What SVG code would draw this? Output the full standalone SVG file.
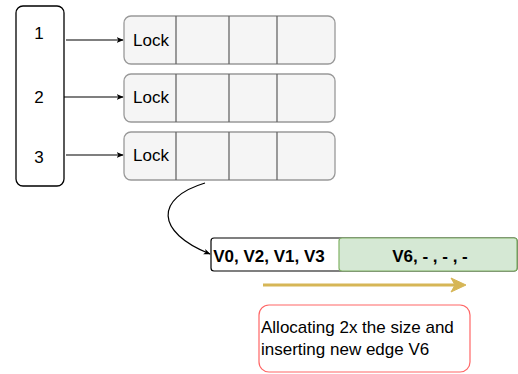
<svg xmlns="http://www.w3.org/2000/svg" width="518" height="374" viewBox="0 0 518 374">
<style>
text{font-family:"Liberation Sans",Arial,sans-serif;font-size:17px;fill:#000}
.row{fill:#f5f5f5;stroke:#999;stroke-width:1.3}
.div{stroke:#666;stroke-width:1.3}
.c{fill:none;stroke:#000;stroke-width:1.2}
.b{font-weight:bold}
</style>
<defs>
<marker id="ah" viewBox="0 0 10 10" refX="9" refY="5" markerWidth="7" markerHeight="7" orient="auto" markerUnits="userSpaceOnUse">
<path d="M0,1 L10,5 L0,9 L2.5,5 Z" fill="#000"/>
</marker>
</defs>
<g id="table">
<rect x="16" y="6" width="48" height="180" rx="7" fill="#fff" stroke="#000" stroke-width="1.3"/>
<text x="39" y="39" text-anchor="middle">1</text>
<text x="39" y="103" text-anchor="middle">2</text>
<text x="39" y="163" text-anchor="middle">3</text>
</g>
<g id="row1">
<rect class="row" x="124" y="16" width="211" height="48" rx="7"/>
<line class="div" x1="176" y1="16" x2="176" y2="64"/><line class="div" x1="229" y1="16" x2="229" y2="64"/><line class="div" x1="277" y1="16" x2="277" y2="64"/>
<text x="133" y="46">Lock</text>
</g>
<g id="row2">
<rect class="row" x="124" y="74" width="211" height="48" rx="7"/>
<line class="div" x1="176" y1="74" x2="176" y2="122"/><line class="div" x1="229" y1="74" x2="229" y2="122"/><line class="div" x1="277" y1="74" x2="277" y2="122"/>
<text x="133" y="103">Lock</text>
</g>
<g id="row3">
<rect class="row" x="124" y="132" width="211" height="48" rx="7"/>
<line class="div" x1="176" y1="132" x2="176" y2="180"/><line class="div" x1="229" y1="132" x2="229" y2="180"/><line class="div" x1="277" y1="132" x2="277" y2="180"/>
<text x="133" y="161">Lock</text>
</g>
<g id="bar">
<rect x="211" y="238" width="306" height="33" rx="3" fill="#fff" stroke="#000" stroke-width="1.2"/>
<rect x="339" y="238" width="178" height="33" rx="3" fill="#d5e8d4" stroke="#82b366" stroke-width="1.2"/>
<text class="b" x="269" y="262" text-anchor="middle">V0, V2, V1, V3</text>
<text class="b" x="430" y="262" text-anchor="middle">V6, - , - , -</text>
</g>
<g id="note">
<rect x="259" y="305" width="211" height="67" rx="10" fill="#fff" stroke="#ff6666" stroke-width="1.2"/>
<text x="261" y="333">Allocating 2x the size and</text>
<text x="261" y="355">inserting new edge V6</text>
</g>
<g id="connectors">
<line class="c" x1="66" y1="40" x2="123" y2="40" marker-end="url(#ah)"/>
<line class="c" x1="64" y1="97" x2="123" y2="97" marker-end="url(#ah)"/>
<line class="c" x1="66" y1="155" x2="123" y2="155" marker-end="url(#ah)"/>
<path class="c" d="M205,183 C155,198 155,232 210,254" marker-end="url(#ah)"/>
<line x1="263" y1="285" x2="456" y2="285" stroke="#d6b656" stroke-width="3"/>
<path d="M451,278 L466,285 L451,292 L455,285 Z" fill="#d6b656" stroke="#d6b656" stroke-width="1"/>
</g>
</svg>
